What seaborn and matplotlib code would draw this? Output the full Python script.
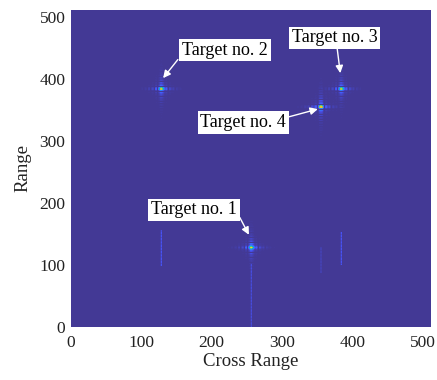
import numpy as np
import seaborn as sns
import matplotlib.pyplot as plt
from matplotlib.colors import LinearSegmentedColormap, PowerNorm

# Scene: point targets on a 512 x 512 cross-range / range grid
grid_size = 512
target_names = ["Target no. 1", "Target no. 2", "Target no. 3", "Target no. 4"]
target_cross = [256, 128, 384, 355]
target_range = [128, 384, 384, 355]
target_amp = [0.85, 0.80, 0.75, 1.00]

# Weak vertical residual streaks left by range processing
streak_cross = [128, 355, 384, 256]
streak_lo = [98, 88, 100, 0]
streak_hi = [155, 128, 152, 100]
streak_amp = [0.06, 0.06, 0.06, 0.04]

tick_values = [0, 100, 200, 300, 400, 500]

# Parula-like colour map
parula = LinearSegmentedColormap.from_list("parula_like", [
    (0.00, (0.262, 0.225, 0.585)),
    (0.10, (0.281, 0.323, 0.958)),
    (0.20, (0.179, 0.529, 0.968)),
    (0.30, (0.069, 0.628, 0.889)),
    (0.40, (0.022, 0.696, 0.789)),
    (0.50, (0.216, 0.784, 0.592)),
    (0.60, (0.504, 0.799, 0.348)),
    (0.70, (0.730, 0.770, 0.242)),
    (0.80, (0.931, 0.733, 0.189)),
    (0.90, (0.997, 0.798, 0.172)),
    (1.00, (0.977, 0.984, 0.081)),
])

# Build the focused image: tapered separable sinc point responses
idx = np.arange(grid_size)
X, Y = np.meshgrid(idx, idx)
img = np.zeros((grid_size, grid_size))
for cx, cy, a in zip(target_cross, target_range, target_amp):
    dx, dy = X - cx, Y - cy
    rx = np.abs(np.sinc(dx / 5.0)) ** 1.4 * np.exp(-(dx / 22.0) ** 2)
    ry = np.abs(np.sinc(dy / 4.0)) ** 1.4 * np.exp(-(dy / 36.0) ** 2)
    img += a * rx * ry
for sx, lo, hi, a in zip(streak_cross, streak_lo, streak_hi, streak_amp):
    band = (Y >= lo) & (Y <= hi)
    img += a * np.exp(-((X - sx) / 0.8) ** 2) * band * (0.5 + 0.5 * np.abs(np.cos(Y * 0.6)))

sns.set_theme(style="white")
plt.rcParams["font.family"] = ["Liberation Serif", "DejaVu Serif"]

fig = plt.figure(figsize=(4.37, 3.80), dpi=100)
ax = fig.add_axes([71 / 437, 1 - 327 / 380, 360 / 437, 317 / 380])

sns.heatmap(img, ax=ax, cmap=parula, norm=PowerNorm(gamma=0.8, vmin=0, vmax=img.max()),
            cbar=False, xticklabels=False, yticklabels=False, rasterized=True)
ax.set_xlim(0, grid_size)
ax.set_ylim(0, grid_size)
ax.set_xticks(tick_values)
ax.set_yticks(tick_values)
ax.set_xticklabels([str(t) for t in tick_values], rotation=0)
ax.set_yticklabels([str(t) for t in tick_values], rotation=0)
ax.tick_params(axis="both", length=0, labelsize=12.5, colors="#222222")
ax.tick_params(axis="x", pad=6)
ax.tick_params(axis="y", pad=4)
for s in ax.spines.values():
    s.set_visible(False)

ax.set_xlabel("Cross Range", fontsize=13.5, color="#222222", labelpad=1)
ax.set_ylabel("Range", fontsize=13.5, color="#222222", labelpad=6)

# Labels with white arrows pointing to each target
label_pos = [(175, 189), (219, 447), (375, 467), (245, 330)]
arrow_tip = [(253, 149), (131, 402), (383, 410), (351, 352)]
arrow_tail = [(240, 177), (152, 432), (378, 455), (292, 334)]
for name, (lx, ly), tip, tail in zip(target_names, label_pos, arrow_tip, arrow_tail):
    ax.text(lx, ly, name, fontsize=13, color="black", ha="center", va="center",
            bbox=dict(boxstyle="square,pad=0.15", fc="white", ec="none"), zorder=5)
    ax.annotate("", xy=tip, xytext=tail,
                arrowprops=dict(arrowstyle="-|>", color="white", lw=1.0,
                                mutation_scale=11, shrinkA=0, shrinkB=0), zorder=4)

fig.savefig("out.png", dpi=100)
